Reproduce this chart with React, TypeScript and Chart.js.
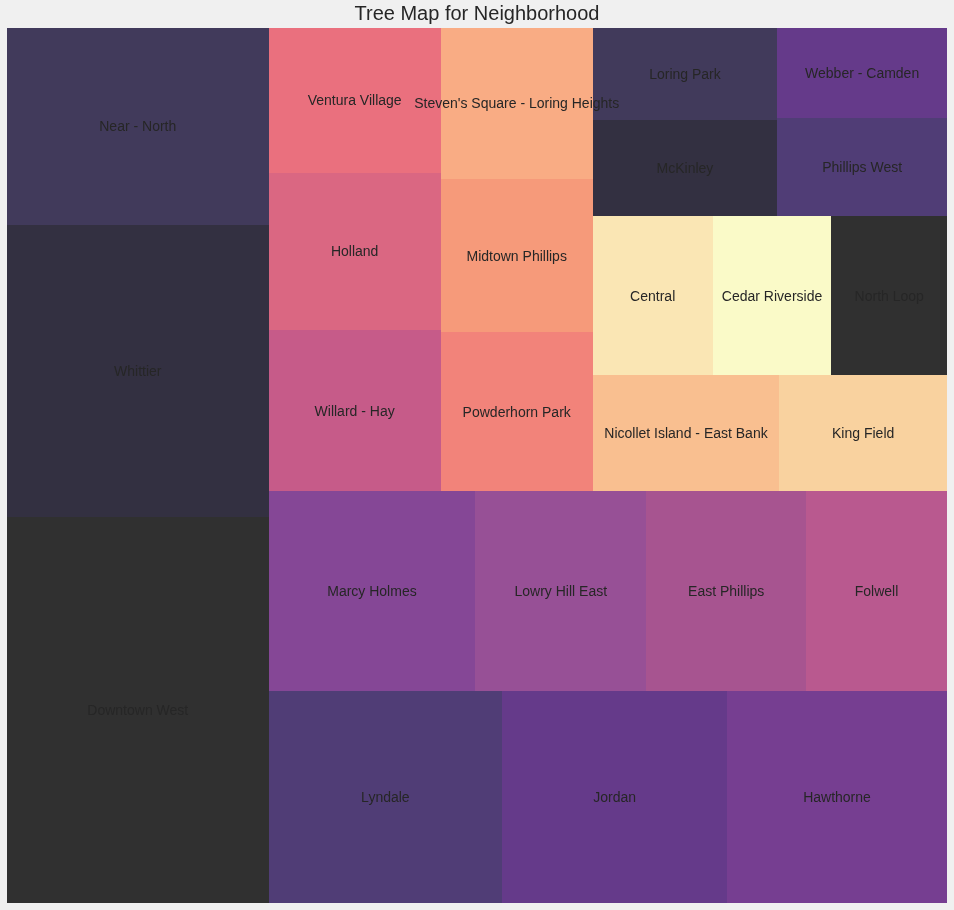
import React, { useEffect, useRef } from "react";
import { Chart, registerables } from "chart.js";

Chart.register(...registerables);

const neighborhoods: string[] = [
  "Downtown West",
  "Whittier",
  "Near - North",
  "Lyndale",
  "Jordan",
  "Hawthorne",
  "Marcy Holmes",
  "Lowry Hill East",
  "East Phillips",
  "Folwell",
  "Willard - Hay",
  "Holland",
  "Ventura Village",
  "Powderhorn Park",
  "Midtown Phillips",
  "Steven's Square - Loring Heights",
  "Nicollet Island - East Bank",
  "King Field",
  "Central",
  "Cedar Riverside",
  "North Loop",
  "McKinley",
  "Loring Park",
  "Phillips West",
  "Webber - Camden",
];

const counts: number[] = [
  1011, 765, 516, 496, 477, 467, 414, 342, 320, 282, 278, 271, 250, 242, 233,
  230, 217, 195, 191, 189, 184, 178, 170, 167, 153,
];

const palette: string[] = [
  "#303030",
  "#333041",
  "#413a5b",
  "#503d76",
  "#653a8a",
  "#763e91",
  "#854796",
  "#975096",
  "#a75490",
  "#b9598f",
  "#c65b89",
  "#da6782",
  "#ea707e",
  "#f2837a",
  "#f69a7a",
  "#f9ac84",
  "#f9bf90",
  "#f9d29f",
  "#fae6b4",
  "#fafac8",
];

type Rect = { x: number; y: number; dx: number; dy: number };

function normalizeSizes(sizes: number[], dx: number, dy: number): number[] {
  const total = sizes.reduce((a, b) => a + b, 0);
  return sizes.map((s) => (s * dx * dy) / total);
}

function layoutRow(sizes: number[], x: number, y: number, dx: number, dy: number): Rect[] {
  const covered = sizes.reduce((a, b) => a + b, 0);
  const width = covered / dy;
  const out: Rect[] = [];
  for (const s of sizes) {
    out.push({ x, y, dx: width, dy: s / width });
    y += s / width;
  }
  return out;
}

function layoutCol(sizes: number[], x: number, y: number, dx: number, dy: number): Rect[] {
  const covered = sizes.reduce((a, b) => a + b, 0);
  const height = covered / dx;
  const out: Rect[] = [];
  for (const s of sizes) {
    out.push({ x, y, dx: s / height, dy: height });
    x += s / height;
  }
  return out;
}

function layout(sizes: number[], x: number, y: number, dx: number, dy: number): Rect[] {
  return dx >= dy ? layoutRow(sizes, x, y, dx, dy) : layoutCol(sizes, x, y, dx, dy);
}

function leftover(sizes: number[], x: number, y: number, dx: number, dy: number) {
  const covered = sizes.reduce((a, b) => a + b, 0);
  if (dx >= dy) {
    const width = covered / dy;
    return { x: x + width, y, dx: dx - width, dy };
  }
  const height = covered / dx;
  return { x, y: y + height, dx, dy: dy - height };
}

function worstRatio(sizes: number[], x: number, y: number, dx: number, dy: number): number {
  return Math.max(...layout(sizes, x, y, dx, dy).map((r) => Math.max(r.dx / r.dy, r.dy / r.dx)));
}

function squarify(sizes: number[], x: number, y: number, dx: number, dy: number): Rect[] {
  if (sizes.length === 0) return [];
  if (sizes.length === 1) return layout(sizes, x, y, dx, dy);
  let i = 1;
  while (
    i < sizes.length &&
    worstRatio(sizes.slice(0, i), x, y, dx, dy) >= worstRatio(sizes.slice(0, i + 1), x, y, dx, dy)
  ) {
    i += 1;
  }
  const current = sizes.slice(0, i);
  const remaining = sizes.slice(i);
  const lo = leftover(current, x, y, dx, dy);
  return layout(current, x, y, dx, dy).concat(squarify(remaining, lo.x, lo.y, lo.dx, lo.dy));
}

export default function App() {
  const canvasRef = useRef<HTMLCanvasElement>(null);

  useEffect(() => {
    document.body.style.margin = "0";
    document.body.style.background = "#f0f0f0";
    const canvas = canvasRef.current;
    if (!canvas) return;

    const rects = squarify(normalizeSizes(counts, 100, 100), 0, 0, 100, 100);

    const treemapPlugin = {
      id: "treemapCells",
      beforeDatasetsDraw(chart: any) {
        const { ctx } = chart;
        const xs = chart.scales.x;
        const ys = chart.scales.y;
        ctx.save();
        rects.forEach((r, i) => {
          const x0 = Math.round(xs.getPixelForValue(r.x));
          const x1 = Math.round(xs.getPixelForValue(r.x + r.dx));
          const y0 = Math.round(ys.getPixelForValue(r.y + r.dy));
          const y1 = Math.round(ys.getPixelForValue(r.y));
          ctx.fillStyle = palette[i % palette.length];
          ctx.fillRect(x0, y0, x1 - x0, y1 - y0);
        });
        ctx.font = "14px 'Liberation Sans', Arial, sans-serif";
        ctx.fillStyle = "#262626";
        ctx.textAlign = "center";
        ctx.textBaseline = "middle";
        rects.forEach((r, i) => {
          const cx = xs.getPixelForValue(r.x + r.dx / 2);
          const cy = ys.getPixelForValue(r.y + r.dy / 2);
          ctx.fillText(neighborhoods[i], cx, cy + 1);
        });
        ctx.restore();
      },
    };

    const chart = new Chart(canvas, {
      type: "scatter",
      data: {
        datasets: [
          {
            label: "Neighborhood",
            data: rects.map((r) => ({ x: r.x + r.dx / 2, y: r.y + r.dy / 2 })),
            pointRadius: 0,
            pointHoverRadius: 0,
          },
        ],
      },
      options: {
        animation: false,
        responsive: true,
        maintainAspectRatio: false,
        events: [],
        layout: { padding: { left: 7, right: 7, top: 0, bottom: 7 } },
        scales: {
          x: { type: "linear", min: 0, max: 100, display: false },
          y: { type: "linear", min: 0, max: 100, display: false },
        },
        plugins: {
          legend: { display: false },
          tooltip: { enabled: false },
          title: {
            display: true,
            text: "Tree Map for Neighborhood",
            color: "#262626",
            font: { family: "'Liberation Sans', Arial, sans-serif", size: 20, weight: "normal" },
            padding: { top: 2, bottom: 2 },
          },
        },
      },
      plugins: [treemapPlugin],
    });

    return () => chart.destroy();
  }, []);

  return (
    <div
      style={{
        position: "absolute",
        left: 0,
        top: 0,
        width: 954,
        height: 910,
        background: "#f0f0f0",
      }}
    >
      <canvas ref={canvasRef} />
    </div>
  );
}
